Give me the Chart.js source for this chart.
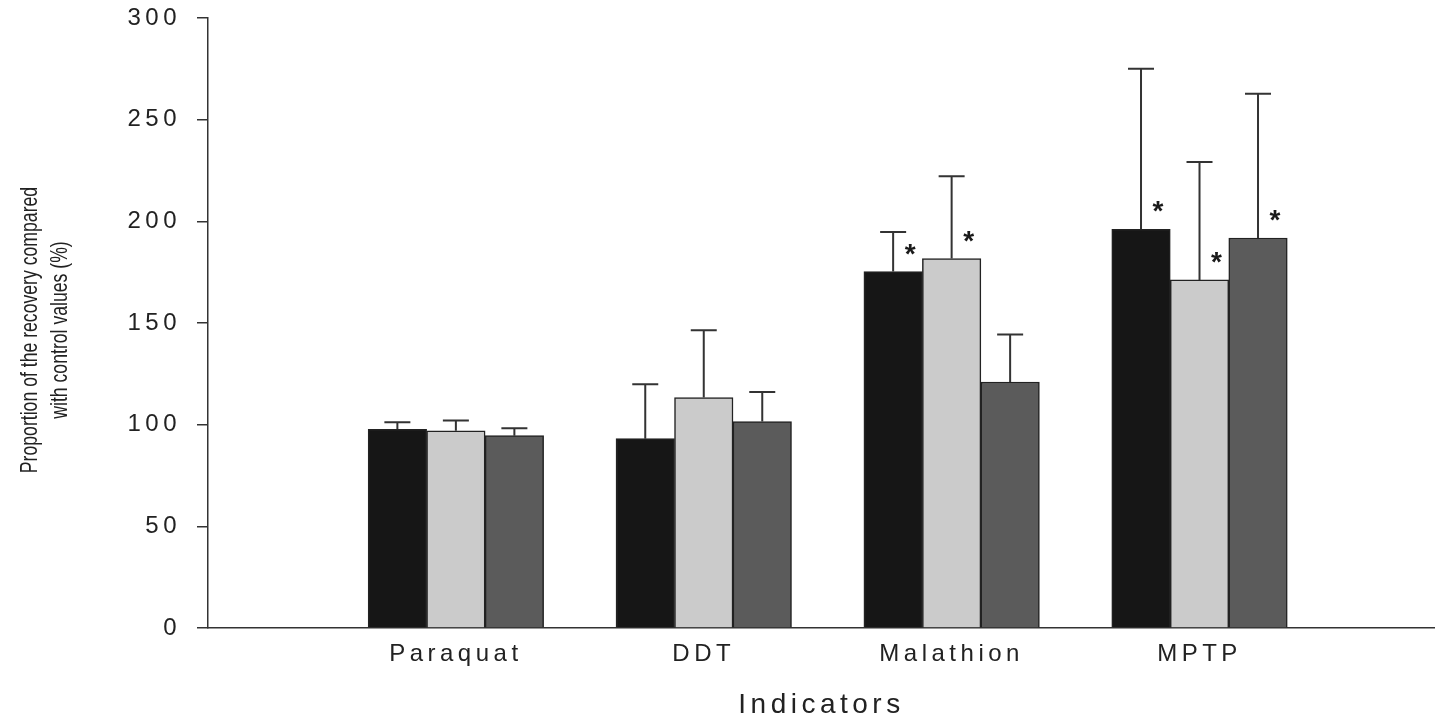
<!DOCTYPE html>
<html>
<head>
<meta charset="utf-8">
<title>Proportion of the recovery compared with control values</title>
<script src="https://cdn.jsdelivr.net/npm/chart.js@4.4.1/dist/chart.umd.min.js"></script>
<style>
  html, body { margin: 0; padding: 0; background: #ffffff; overflow: hidden; }
  #wrap { width: 1435px; height: 720px; }
</style>
</head>
<body>
<div id="wrap"><canvas id="chart" width="1435" height="720"></canvas></div>
<script>
// ---- data ----
const categories = ['Paraquat', 'DDT', 'Malathion', 'MPTP'];
const seriesNames = ['Group 1', 'Group 2', 'Group 3'];

const blackValues = [97.7, 93.1, 175.3, 196.1];
const lightValues = [97.0, 113.3, 181.7, 171.2];
const darkValues  = [94.6, 101.5, 121.0, 191.8];

// upper error (SE) above each bar
const blackErrors = [3.5, 26.8, 19.5, 79.0];
const lightErrors = [5.0, 33.1, 40.5, 58.0];
const darkErrors  = [3.6, 14.6, 23.3, 71.0];

// significance markers (*)
const blackSignificant = [false, false, true, true];
const lightSignificant = [false, false, true, true];
const darkSignificant  = [false, false, false, true];

const yTicks = [0, 50, 100, 150, 200, 250, 300];
const yTitleLines = ['Proportion of the recovery compared', 'with control values (%)'];
const xTitle = 'Indicators';

// ---- helpers ----
const FONT = '"Liberation Sans", Arial, Helvetica, sans-serif';
const toPoints = values => values.map((v, i) => ({ x: i + 1, y: v }));

const seriesStyle = [
  { color: '#161616', values: blackValues, errors: blackErrors, sig: blackSignificant },
  { color: '#cbcbcb', values: lightValues, errors: lightErrors, sig: lightSignificant },
  { color: '#5b5b5b', values: darkValues,  errors: darkErrors,  sig: darkSignificant }
];

const datasets = seriesStyle.map((s, k) => ({
  label: seriesNames[k],
  data: toPoints(s.values),
  errors: s.errors,
  significant: s.sig,
  backgroundColor: s.color,
  borderColor: '#222222',
  borderWidth: 1.5,
  barThickness: 58.5
}));

// wider tracking for the axis text
const trackedText = {
  id: 'trackedText',
  beforeDraw(chart) { chart.ctx.letterSpacing = '4.5px'; },
  afterDraw(chart) { chart.ctx.letterSpacing = '0px'; }
};

// upper error whiskers and significance asterisks
const errorBars = {
  id: 'errorBars',
  afterDatasetsDraw(chart) {
    const ctx = chart.ctx;
    const yScale = chart.scales.y;
    ctx.save();
    ctx.letterSpacing = '0px';
    chart.data.datasets.forEach((ds, di) => {
      const meta = chart.getDatasetMeta(di);
      meta.data.forEach((bar, i) => {
        const value = ds.data[i].y;
        const top = yScale.getPixelForValue(value + ds.errors[i]);
        ctx.strokeStyle = '#333333';
        ctx.lineWidth = 2;
        ctx.beginPath();
        ctx.moveTo(bar.x, bar.y);
        ctx.lineTo(bar.x, top);
        ctx.moveTo(bar.x - 13, top);
        ctx.lineTo(bar.x + 13, top);
        ctx.stroke();
        if (ds.significant[i]) {
          ctx.fillStyle = '#1a1a1a';
          ctx.font = 'bold 28px ' + FONT;
          ctx.textAlign = 'center';
          ctx.textBaseline = 'alphabetic';
          ctx.fillText('*', bar.x + 17, bar.y - 9);
        }
      });
    });
    ctx.restore();
  }
};

// two-line rotated y-axis title, set in a condensed face
const yAxisTitle = {
  id: 'yAxisTitle',
  afterDraw(chart) {
    const ctx = chart.ctx;
    const area = chart.chartArea;
    const cy = (area.top + area.bottom) / 2 + 7;
    ctx.save();
    ctx.letterSpacing = '0px';
    ctx.fillStyle = '#222222';
    ctx.font = '24px ' + FONT;
    ctx.textAlign = 'center';
    ctx.textBaseline = 'middle';
    yTitleLines.forEach((line, i) => {
      ctx.save();
      ctx.translate(30 + i * 30, cy);
      ctx.rotate(-Math.PI / 2);
      ctx.scale(0.735, 1);
      ctx.fillText(line, 0, 0);
      ctx.restore();
    });
    ctx.restore();
  }
};

const chart = new Chart(document.getElementById('chart'), {
  type: 'bar',
  data: { datasets },
  options: {
    responsive: false,
    animation: false,
    devicePixelRatio: 1,
    layout: { padding: { top: 18, right: 0, bottom: 0, left: 0 } },
    plugins: {
      legend: { display: false },
      tooltip: { enabled: false },
      title: { display: false }
    },
    scales: {
      x: {
        type: 'linear',
        min: 0,
        max: 4.95,
        offset: false,
        z: 1,
        grid: { display: false, offset: false, drawTicks: false, tickLength: 0 },
        border: { display: true, color: '#333333', width: 1.5 },
        ticks: {
          stepSize: 1,
          includeBounds: false,
          autoSkip: false,
          maxRotation: 0,
          padding: 12,
          color: '#222222',
          font: { family: FONT, size: 24 },
          callback: v => (Number.isInteger(v) && v >= 1 && v <= categories.length) ? categories[v - 1] : ''
        },
        title: {
          display: true,
          text: xTitle,
          color: '#222222',
          font: { family: FONT, size: 28, lineHeight: 1 },
          padding: { top: 0, bottom: 1 }
        },
        afterFit: scale => { scale.height = 92; scale.paddingLeft = 0; scale.paddingRight = 0; }
      },
      y: {
        min: 0,
        max: 300,
        grid: { display: true, drawOnChartArea: false, drawTicks: true, tickLength: 11, color: '#333333', lineWidth: 1.5 },
        border: { display: true, color: '#333333', width: 1.5 },
        afterBuildTicks: scale => { scale.ticks = yTicks.map(v => ({ value: v })); },
        ticks: {
          padding: 16,
          color: '#222222',
          font: { family: FONT, size: 24 }
        },
        afterFit: scale => { scale.width = 208; scale.paddingTop = 0; scale.paddingBottom = 0; }
      }
    }
  },
  plugins: [trackedText, errorBars, yAxisTitle]
});
</script>
</body>
</html>
